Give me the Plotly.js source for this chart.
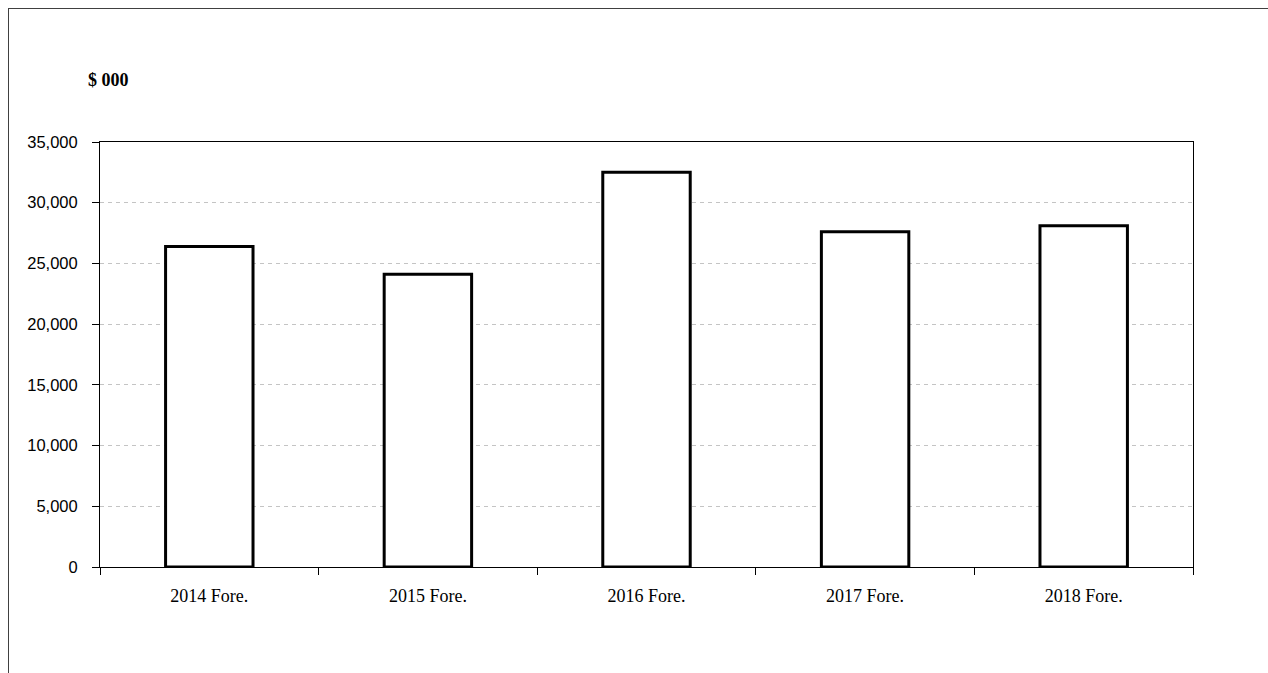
<!DOCTYPE html>
<html>
<head>
<meta charset="utf-8">
<script src="https://cdn.plot.ly/plotly-3.0.1.min.js"></script>
<style>
  html, body { margin: 0; padding: 0; background: #fff; }
  #chart { position: absolute; left: 0; top: 0; width: 1268px; height: 673px; }
  #frame { position: absolute; left: 8px; top: 8px; width: 1270px; height: 680px;
           border-left: 1px solid #404040; border-top: 1px solid #404040; pointer-events: none; }
</style>
</head>
<body>
<div id="chart"></div>
<div id="frame"></div>
<script>
const categories = ["2014 Fore.", "2015 Fore.", "2016 Fore.", "2017 Fore.", "2018 Fore."];
const values = [26400, 24100, 32500, 27600, 28100];
const yTickVals = [0, 5000, 10000, 15000, 20000, 25000, 30000, 35000];
const yTickText = ["0", "5,000", "10,000", "15,000", "20,000", "25,000", "30,000", "35,000"];
const unitLabel = "$ 000";

const trace = {
  type: "bar",
  x: categories,
  y: values,
  marker: { color: "#ffffff", line: { color: "#000000", width: 3 } },
  hoverinfo: "x+y"
};

const layout = {
  width: 1268,
  height: 673,
  paper_bgcolor: "#ffffff",
  plot_bgcolor: "#ffffff",
  margin: { l: 100, r: 75, t: 142, b: 106, pad: 0 },
  bargap: 0.6,
  showlegend: false,
  xaxis: {
    type: "category",
    showgrid: false,
    showline: true,
    linecolor: "#000000",
    linewidth: 1,
    mirror: true,
    ticks: "outside",
    tickson: "boundaries",
    ticklen: 7,
    tickcolor: "#000000",
    tickfont: { family: "Liberation Serif, Times New Roman, serif", size: 18, color: "#000000" },
    ticklabelstandoff: 12,
    zeroline: false
  },
  yaxis: {
    range: [0, 35000],
    tickvals: yTickVals,
    ticktext: yTickText,
    showgrid: true,
    gridcolor: "#c4c4c4",
    griddash: "4px,4px",
    gridwidth: 1,
    showline: true,
    linecolor: "#000000",
    linewidth: 1,
    mirror: true,
    ticks: "outside",
    ticklen: 7,
    tickcolor: "#000000",
    tickfont: { family: "Liberation Sans, Arial, sans-serif", size: 16.5, color: "#000000" },
    ticklabelstandoff: 11,
    zeroline: false
  },
  annotations: [{
    text: "<b>" + unitLabel + "</b>",
    xref: "paper", yref: "paper",
    x: -0.0128, y: 1.1468,
    xanchor: "left", yanchor: "middle",
    showarrow: false,
    font: { family: "Liberation Serif, Times New Roman, serif", size: 18, color: "#000000" }
  }]
};

Plotly.newPlot("chart", [trace], layout, { displayModeBar: false, staticPlot: true });
</script>
</body>
</html>
